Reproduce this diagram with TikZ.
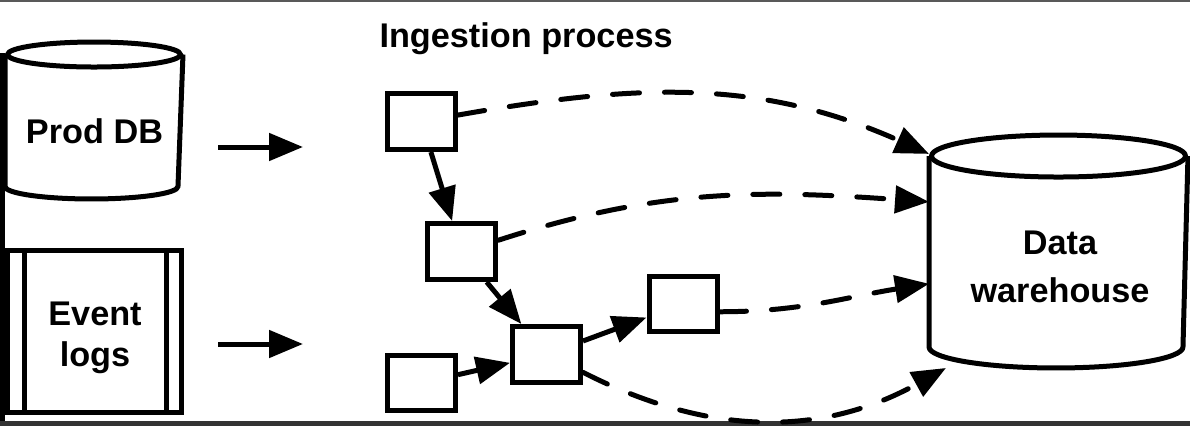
\documentclass[tikz,border=0pt]{standalone}
\usepackage{fontspec}
\setmainfont{Liberation Sans}
\usetikzlibrary{arrows.meta,calc}

% cylinder outline round a node: node, half width, cap radius
\newcommand\drum[3]{%
  \draw ($(#1.north west)+(0cm,-#3)$) -- ($(#1.south west)+(0cm,#3)$)
    arc[start angle=180, end angle=360, x radius=#2, y radius=#3]
    -- ($(#1.north east)+(0cm,-#3)$);
  \draw ($(#1.north)+(0cm,-#3)$) ellipse[x radius=#2, y radius=#3];
}

\begin{document}
\begin{tikzpicture}[
  x=0.02cm, y=-0.02cm,
  line width=0.1cm,
  >={Triangle[length=0.68cm,width=0.54cm]},
  txt/.style={font=\bfseries\fontsize{19.5}{23}\selectfont, inner sep=0pt},
  store/.style={rectangle, inner sep=0pt},
  task/.style={draw, rectangle, minimum width=1.36cm, minimum height=1.12cm, inner sep=0pt},
  flow/.style={->},
  load/.style={->, dash pattern=on 0.54cm off 0.5cm, line cap=round}
]

% --- canvas and screen edges ---
\useasboundingbox (0,0) rectangle (1190,426);
\fill[gray!70!black] (0,0) rectangle (1190,2);
\fill[gray!40!black] (0,421) rectangle (1190,426);
\fill[black] (0,53) rectangle (5,421);

% --- sources ---
\node[store, minimum width=3.46cm, minimum height=3.04cm] (prod) at (94,120.5) {};
\drum{prod}{1.73cm}{0.25cm}
\node[txt, anchor=base] (prodtext) at (94.5,143) {Prod DB};

\node[draw, minimum width=3.48cm, minimum height=3.24cm, inner sep=0pt] (logs) at (94.5,331.5) {};
\draw ($(logs.north west)+(19,0)$) -- ($(logs.south west)+(19,0)$);
\draw ($(logs.north east)+(-17.5,0)$) -- ($(logs.south east)+(-17.5,0)$);
\node[txt, align=center] (logstext) at (95,338) {Event\\logs};

% --- feed arrows ---
\coordinate (prodout) at (218,147);
\coordinate (prodin)  at (303,147);
\coordinate (logsout) at (218,344);
\coordinate (logsin)  at (303,344);
\draw[flow] (prodout) -- (prodin);
\draw[flow] (logsout) -- (logsin);

% --- ingestion tasks ---
\node[txt, anchor=base west] (title) at (377,48) {Ingestion process};

\foreach \name/\x/\y in {t1/421.5/121.5, t2/461.5/251.5, t3/546.5/354.5, t4/683/304, t5/421.5/383}
  \node[task] (\name) at (\x,\y) {};

\foreach \a/\b in {t1/t2, t2/t3, t5/t3, t3/t4}
  \draw[flow] (\a) -- (\b);

% --- warehouse ---
\node[store, minimum width=5.08cm, minimum height=4.56cm] (dw) at (1058.5,251.5) {};
\drum{dw}{2.54cm}{0.42cm}
\node[txt, align=center, font=\bfseries\fontsize{19.5}{27}\selectfont] (dwtext) at (1060,267) {Data\\warehouse};

% --- loads into the warehouse ---
\draw[load] (t1.10) to[out=10, in=156] (dw.143);
\draw[load] (t2.17) to[out=18, in=176] (dw.159);
\draw[load] (t4.-12) to[out=0, in=-171] (dw.194);
\draw[load] (t3.-26) to[out=-27, in=209] (dw.226);

\end{tikzpicture}
\end{document}
